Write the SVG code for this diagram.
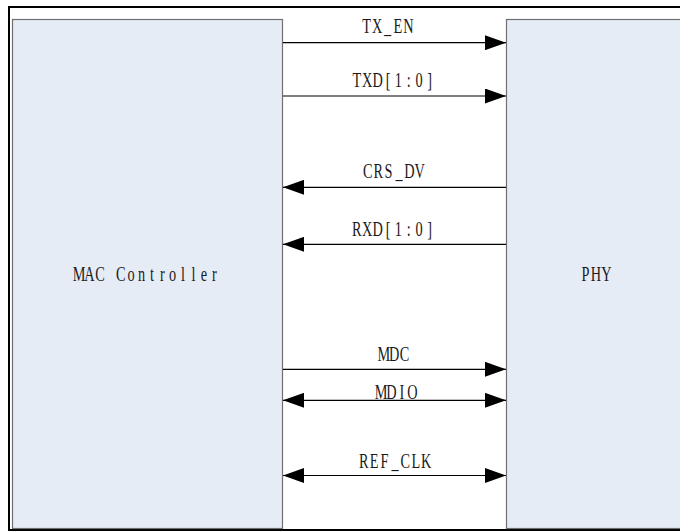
<svg xmlns="http://www.w3.org/2000/svg" width="680" height="531" viewBox="0 0 680 531">
<style>
.box{fill:#E6ECF6;stroke:#6f6f6f;stroke-width:1.2}
.lbl{font-family:"Liberation Serif","DejaVu Serif",serif;font-size:22px;fill:#1a1a1a;text-anchor:middle}
.sig{stroke:#000;stroke-width:1.2;fill:none}
.one{marker-end:url(#ah)}
.two{marker-start:url(#ah);marker-end:url(#ah)}
</style>
<defs>
<marker id="ah" markerUnits="userSpaceOnUse" markerWidth="21" markerHeight="15" refX="21" refY="7.5" orient="auto-start-reverse" viewBox="0 0 21 15">
<path d="M0,0 L21,7.5 L0,15 Z" fill="#000"/>
</marker>
</defs>
<path d="M690,7 L9,7 L9,530 L690,530" fill="none" stroke="#000" stroke-width="2"/>
<g id="mac">
<rect class="box" x="12.5" y="19.5" width="270" height="509"/>
<text class="lbl" transform="translate(146.7,280.7) scale(0.65,1)" x="-104 -88 -72 -56 -40 -24 -8 8 24 40 56 72 88 104" y="0">MAC Controller</text>
</g>
<g id="phy">
<rect class="box" x="506.5" y="19.5" width="200" height="509"/>
<text class="lbl" transform="translate(596,280.7) scale(0.65,1)" x="-16 0 16" y="0">PHY</text>
</g>
<g id="connectors">
<line class="sig one" x1="283" y1="42.7" x2="506" y2="42.7"/>
<line class="sig one" x1="283" y1="96" x2="506" y2="96"/>
<line class="sig one" x1="506" y1="187.3" x2="283" y2="187.3"/>
<line class="sig one" x1="506" y1="244.3" x2="283" y2="244.3"/>
<line class="sig one" x1="283" y1="369.3" x2="506" y2="369.3"/>
<line class="sig two" x1="283" y1="400.3" x2="506" y2="400.3"/>
<line class="sig two" x1="283" y1="475.5" x2="506" y2="475.5"/>
<text class="lbl" transform="translate(387.5,33.4) scale(0.65,1)" x="-32 -16 0 16 32" y="0">TX_EN</text>
<text class="lbl" transform="translate(393.2,86.7) scale(0.65,1)" x="-56 -40 -24 -8 8 24 40 56" y="0">TXD[1:0]</text>
<text class="lbl" transform="translate(393.8,178.3) scale(0.65,1)" x="-40 -24 -8 8 24 40" y="0">CRS_DV</text>
<text class="lbl" transform="translate(393.2,236) scale(0.65,1)" x="-56 -40 -24 -8 8 24 40 56" y="0">RXD[1:0]</text>
<text class="lbl" transform="translate(394.2,361) scale(0.65,1)" x="-16 0 16" y="0">MDC</text>
<text class="lbl" transform="translate(396.7,399.3) scale(0.65,1)" x="-24 -8 8 24" y="0">MDIO</text>
<text class="lbl" transform="translate(395,468) scale(0.65,1)" x="-48 -32 -16 0 16 32 48" y="0">REF_CLK</text>
</g>
</svg>
